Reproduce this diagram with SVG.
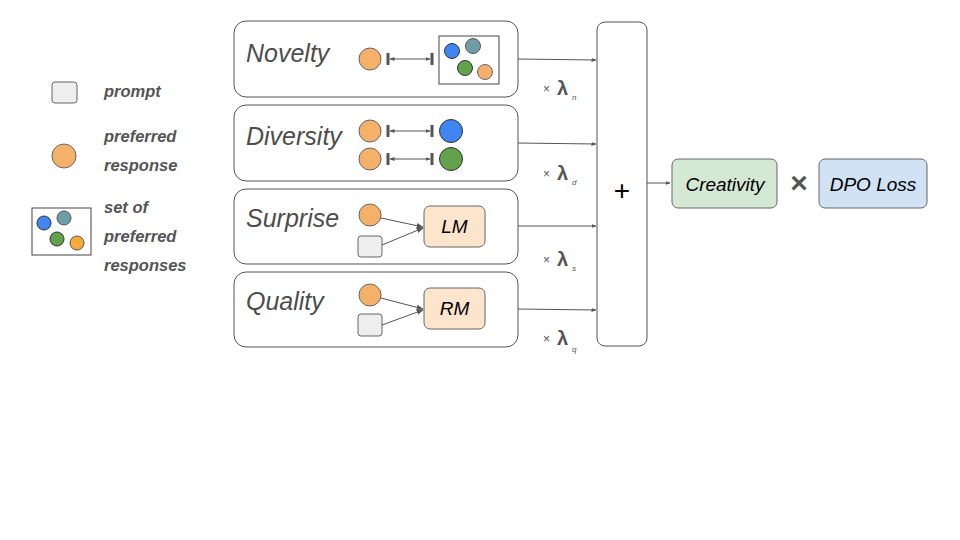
<svg xmlns="http://www.w3.org/2000/svg" width="960" height="540" viewBox="0 0 960 540">
<defs>
<style>
.panel{fill:#fff;stroke:#555;stroke-width:1}
.title{font-family:"Liberation Sans",Arial,sans-serif;font-style:italic;font-size:25px;fill:#4d4d4d}
.leg{font-family:"Liberation Sans",Arial,sans-serif;font-style:italic;font-weight:bold;font-size:16.5px;fill:#555}
.or{fill:#f5b06a;stroke:#666;stroke-width:1}
.bl{fill:#3f86f2;stroke:#333;stroke-width:1}
.tl{fill:#6f9ea6;stroke:#555;stroke-width:1}
.gr{fill:#62a24a;stroke:#333;stroke-width:1}
.ob{fill:#f8a93a;stroke:#555;stroke-width:1}
.pr{fill:#eeeeee;stroke:#666;stroke-width:1}
.set{fill:#fff;stroke:#444;stroke-width:1}
.mdl{fill:#fde5cd;stroke:#666;stroke-width:1}
.lbl{font-family:"Liberation Sans",Arial,sans-serif;font-style:italic;font-size:19px;fill:#000;text-anchor:middle}
.ln{stroke:#555;stroke-width:1;fill:none}
.bar{fill:#555}
.lam{font-family:"Liberation Sans",Arial,sans-serif;fill:#555}
</style>
<marker id="ah" viewBox="0 0 10 10" refX="9" refY="5" markerWidth="7" markerHeight="7" orient="auto-start-reverse" markerUnits="userSpaceOnUse">
<path d="M0,1 L10,5 L0,9 z" fill="#555"/>
</marker>
<marker id="ahs" viewBox="0 0 10 10" refX="9" refY="5" markerWidth="5" markerHeight="5" orient="auto-start-reverse" markerUnits="userSpaceOnUse">
<path d="M0,1 L10,5 L0,9 z" fill="#555"/>
</marker>
</defs>
<rect width="960" height="540" fill="#fff"/>

<g id="legend">
<rect class="pr" x="52" y="82" width="25" height="21" rx="3"/>
<text class="leg" x="104" y="97">prompt</text>
<circle class="or" cx="64" cy="156" r="12"/>
<text class="leg" x="104" y="142">preferred</text>
<text class="leg" x="104" y="171">response</text>
<rect class="set" x="32" y="208" width="59" height="47"/>
<circle class="bl" cx="44" cy="223" r="7"/>
<circle class="tl" cx="64" cy="218" r="7"/>
<circle class="gr" cx="57" cy="239" r="7"/>
<circle class="ob" cx="77" cy="243" r="7"/>
<text class="leg" x="104" y="213">set of</text>
<text class="leg" x="104" y="242">preferred</text>
<text class="leg" x="104" y="271">responses</text>
</g>

<g id="novelty">
<rect class="panel" x="234" y="21" width="284" height="76" rx="12"/>
<text class="title" x="246" y="62">Novelty</text>
<circle class="or" cx="370" cy="59" r="11"/>
<rect class="bar" x="386.5" y="53" width="3" height="12"/>
<rect class="bar" x="430.5" y="53" width="3" height="12"/>
<line class="ln" x1="390" y1="59" x2="430" y2="59" marker-start="url(#ahs)" marker-end="url(#ahs)"/>
<rect class="set" x="439" y="36" width="60" height="48"/>
<circle class="bl" cx="452" cy="51" r="7.5"/>
<circle class="tl" cx="473" cy="46" r="7.5"/>
<circle class="gr" cx="465" cy="68" r="7.5"/>
<circle class="or" cx="485" cy="72" r="7.5"/>
</g>

<g id="diversity">
<rect class="panel" x="234" y="105" width="284" height="76" rx="12"/>
<text class="title" x="246" y="145">Diversity</text>
<circle class="or" cx="370" cy="131" r="11"/>
<rect class="bar" x="386.5" y="125" width="3" height="12"/>
<rect class="bar" x="430.5" y="125" width="3" height="12"/>
<line class="ln" x1="390" y1="131" x2="430" y2="131" marker-start="url(#ahs)" marker-end="url(#ahs)"/>
<circle class="bl" cx="451" cy="131" r="11.5"/>
<circle class="or" cx="370" cy="159" r="11"/>
<rect class="bar" x="386.5" y="153" width="3" height="12"/>
<rect class="bar" x="430.5" y="153" width="3" height="12"/>
<line class="ln" x1="390" y1="159" x2="430" y2="159" marker-start="url(#ahs)" marker-end="url(#ahs)"/>
<circle class="gr" cx="451" cy="159" r="11.5"/>
</g>

<g id="surprise">
<rect class="panel" x="234" y="189" width="284" height="75" rx="12"/>
<text class="title" x="246" y="227">Surprise</text>
<circle class="or" cx="370" cy="215" r="11"/>
<rect class="pr" x="358" y="236" width="24" height="21" rx="3"/>
<rect class="mdl" x="424" y="206" width="61" height="41" rx="6"/>
<text class="lbl" x="454.5" y="233">LM</text>
<line class="ln" x1="381" y1="218" x2="423" y2="227" marker-end="url(#ah)"/>
<line class="ln" x1="382" y1="245" x2="423" y2="228" marker-end="url(#ah)"/>
</g>

<g id="quality">
<rect class="panel" x="234" y="272" width="284" height="75" rx="12"/>
<text class="title" x="246" y="310">Quality</text>
<circle class="or" cx="370" cy="295" r="11"/>
<rect class="pr" x="358" y="314" width="24" height="22" rx="3"/>
<rect class="mdl" x="424" y="288" width="61" height="41" rx="6"/>
<text class="lbl" x="454.5" y="315">RM</text>
<line class="ln" x1="381" y1="298" x2="423" y2="309" marker-end="url(#ah)"/>
<line class="ln" x1="382" y1="325" x2="423" y2="310" marker-end="url(#ah)"/>
</g>

<g id="sum">
<rect class="panel" x="597" y="22" width="50" height="324" rx="8"/>
<text x="622" y="200" font-family="Liberation Sans,Arial,sans-serif" font-size="28" fill="#000" text-anchor="middle">+</text>
</g>

<g id="creativity">
<rect x="672" y="159" width="105" height="49" rx="6" fill="#d5e8d4" stroke="#666" stroke-width="1"/>
<text class="lbl" x="725" y="191">Creativity</text>
</g>

<text x="799" y="193" font-family="Liberation Sans,Arial,sans-serif" font-size="30" font-weight="bold" fill="#555" text-anchor="middle">×</text>

<g id="dpo">
<rect x="819" y="159" width="108" height="49" rx="6" fill="#d0e2f3" stroke="#666" stroke-width="1"/>
<text class="lbl" x="873" y="191">DPO Loss</text>
</g>

<g id="connectors">
<line class="ln" x1="518" y1="59" x2="596" y2="60" marker-end="url(#ahs)"/>
<line class="ln" x1="518" y1="143" x2="596" y2="144" marker-end="url(#ahs)"/>
<line class="ln" x1="518" y1="226" x2="596" y2="226" marker-end="url(#ahs)"/>
<line class="ln" x1="518" y1="309" x2="596" y2="310" marker-end="url(#ahs)"/>
<line class="ln" x1="647" y1="183" x2="670" y2="183" marker-end="url(#ahs)"/>
</g>

<g id="weights">
<text class="lam" x="543" y="93" font-size="12">×</text>
<text class="lam" x="557" y="95" font-size="20" font-weight="bold">λ</text>
<text class="lam" x="572" y="100" font-size="8" font-style="italic">n</text>
<text class="lam" x="543" y="178" font-size="12">×</text>
<text class="lam" x="557" y="180" font-size="20" font-weight="bold">λ</text>
<text class="lam" x="572" y="185" font-size="8" font-style="italic">d</text>
<text class="lam" x="543" y="264" font-size="12">×</text>
<text class="lam" x="557" y="266" font-size="20" font-weight="bold">λ</text>
<text class="lam" x="572" y="271" font-size="8" font-style="italic">s</text>
<text class="lam" x="543" y="343" font-size="12">×</text>
<text class="lam" x="557" y="345" font-size="20" font-weight="bold">λ</text>
<text class="lam" x="572" y="352" font-size="8" font-style="italic">q</text>
</g>
</svg>
